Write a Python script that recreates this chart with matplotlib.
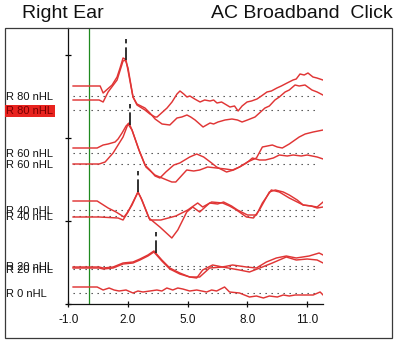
import numpy as np
import matplotlib
matplotlib.use("Agg")
import matplotlib.pyplot as plt
import matplotlib.transforms as mtransforms
from matplotlib.patches import Rectangle

plt.rcParams['font.family'] = ['Liberation Sans', 'DejaVu Sans']

# Stimulus levels and the resting level of each recorded sweep
labels = ["R 80 nHL", "R 80 nHL", "R 60 nHL", "R 60 nHL", "R 40 nHL",
          "R 40 nHL", "R 20 nHL", "R 20 nHL", "R 0 nHL"]
baselines = [20.8, 19.4, 15.1, 14.0, 9.4, 8.8, 3.8, 3.5, 1.1]
selected = 1

# Sweeps: latency (ms) and amplitude relative to the sweep baseline
t1 = [-0.76, 0.6, 0.75, 1.2, 1.45, 1.6, 1.75, 1.85, 2.0, 2.25, 2.45, 2.85, 3.1, 3.36, 3.46,
      3.96, 4.21, 4.46, 4.61, 4.8, 4.96, 5.11, 5.35, 5.62, 5.85, 6.12, 6.3, 6.47, 6.7, 6.87,
      7.12, 7.35, 7.53, 7.73, 7.98, 8.2, 8.48, 8.7, 8.98, 9.2, 9.48, 9.7, 9.99, 10.29, 10.45,
      10.64, 10.85, 11.04, 11.29, 11.49, 11.79]
a1 = [1.0, 1.0, 0.3, 1.1, 1.9, 2.8, 3.8, 3.7, 2.8, -0.1, -0.9, -1.4, -1.8, -2.1, -2.1,
      -1.2, -0.6, 0.2, 0.5, 0.2, -0.1, 0.0, -0.3, -0.6, -0.4, -0.5, -0.4, -0.7, -0.6, -0.8,
      -1.1, -1.0, -1.5, -1.0, -0.6, -0.5, -0.3, 0.0, 0.4, 0.5, 0.8, 1.0, 1.3, 1.6, 1.7,
      2.2, 2.1, 2.3, 1.9, 1.8, 1.6]

t2 = [-0.76, 0.55, 0.75, 1.0, 1.45, 1.75, 1.9, 2.25, 2.45, 2.85, 3.1, 3.36, 3.71, 4.1, 4.46,
      4.7, 4.96, 5.15, 5.37, 5.77, 6.12, 6.3, 6.52, 6.7, 6.87, 7.22, 7.5, 7.73, 8.0, 8.38,
      8.88, 9.1, 9.38, 9.6, 9.89, 10.1, 10.39, 10.6, 10.89, 11.24, 11.5, 11.79]
a2 = [1.0, 1.0, 0.8, 1.8, 3.0, 4.9, 5.0, 1.3, 0.6, 0.2, -0.3, -0.9, -1.4, -1.5, -0.8,
      -0.7, -0.5, -0.7, -1.0, -1.7, -1.3, -1.4, -1.2, -1.1, -1.0, -0.9, -1.0, -1.2, -1.0, -0.7,
      0.2, 0.4, 1.0, 1.3, 1.8, 2.0, 2.5, 2.4, 2.5, 2.0, 1.8, 1.5]

t3 = [-0.76, 0.45, 0.75, 1.0, 1.35, 1.5, 1.7, 1.9, 2.05, 2.2, 2.55, 2.85, 3.1, 3.36, 3.6,
      3.9, 4.3, 4.6, 5.1, 5.45, 5.8, 6.2, 6.45, 6.95, 7.3, 7.6, 8.0, 8.45, 8.75, 9.25,
      9.5, 9.75, 10.1, 10.6, 10.9, 11.3, 11.8]
a3 = [0.5, 0.5, 0.8, 0.9, 1.1, 1.4, 2.0, 2.7, 3.0, 2.3, 0.3, -1.2, -1.7, -2.3, -2.5,
      -1.9, -1.2, -1.0, -0.4, -0.1, -0.4, -1.0, -1.4, -1.9, -1.7, -1.4, -0.9, -0.5, 0.6, 0.8,
      0.6, 0.5, 0.9, 1.6, 1.9, 2.1, 2.3]

t4 = [-0.76, 0.55, 0.85, 1.25, 1.75, 2.0, 2.2, 2.55, 2.9, 3.35, 3.95, 4.2, 4.4, 4.95, 5.3,
      5.6, 6.0, 6.45, 6.9, 7.25, 7.6, 7.95, 8.25, 8.6, 8.9, 9.3, 9.6, 10.0, 10.3, 10.7,
      11.0, 11.5, 11.8]
a4 = [0.0, 0.0, 0.2, 1.1, 2.7, 4.0, 3.4, 1.4, -0.3, -1.1, -1.6, -1.8, -1.8, -0.6, -0.7,
      -0.6, -0.3, -0.4, -0.5, -0.6, -0.3, 0.1, 0.6, 0.4, 0.4, 0.6, 0.9, 0.8, 0.9, 0.8,
      0.9, 0.7, 0.5]

t5 = [-0.76, 0.45, 1.0, 1.4, 1.8, 1.95, 2.2, 2.5, 2.65, 3.05, 3.6, 4.2, 4.5, 4.95, 5.25,
      5.6, 6.1, 6.5, 6.8, 7.2, 7.5, 8.0, 8.45, 8.75, 9.2, 9.6, 10.1, 10.5, 10.8, 11.2,
      11.5, 11.8]
a5 = [0.9, 0.9, 0.2, -0.2, -0.7, -0.3, 0.5, 1.8, 1.2, -0.8, -1.7, -2.8, -2.0, -0.2, 0.3,
      -0.2, 0.7, 0.6, 0.8, 0.4, 0.0, -0.5, -0.5, 0.7, 2.0, 1.8, 1.2, 0.8, 0.5, 0.4,
      0.2, 0.3]

t6 = [-0.76, 0.55, 1.5, 1.75, 2.0, 2.3, 2.5, 2.7, 3.1, 3.65, 4.4, 5.0, 5.5, 5.75, 6.2,
      6.75, 7.1, 7.45, 7.95, 8.3, 8.6, 9.1, 9.4, 9.8, 10.1, 10.5, 10.8, 11.2, 11.5, 11.8]
a6 = [-0.1, -0.1, -0.2, -0.4, 0.4, 1.6, 2.4, 1.6, -0.4, -0.4, 0.0, 0.6, 1.3, 0.9, 1.4,
      1.3, 1.0, 0.6, -0.1, -0.2, 0.6, 2.4, 2.6, 2.4, 2.1, 1.6, 1.1, 1.0, 0.9, 1.4]

t7 = [-0.76, 0.55, 0.75, 1.25, 1.75, 2.25, 2.6, 3.0, 3.3, 3.7, 4.1, 4.6, 5.1, 5.45, 5.75,
      6.25, 6.75, 7.25, 7.95, 8.45, 8.95, 9.45, 9.95, 10.45, 11.1, 11.6, 11.8]
a7 = [-0.1, -0.1, -0.2, -0.1, 0.3, 0.4, 0.7, 1.1, 1.5, 0.6, -0.2, -0.7, -1.1, -1.2, -0.4,
      0.1, -0.1, 0.1, -0.1, -0.2, 0.4, 0.8, 1.0, 0.8, 1.0, 1.3, 1.1]

t8 = [-0.76, 0.55, 0.75, 1.25, 1.75, 2.25, 2.6, 3.0, 3.3, 3.7, 4.1, 4.6, 5.1, 5.6, 6.1,
      6.75, 7.6, 8.1, 8.75, 9.25, 9.95, 10.45, 11.0, 11.5, 11.8]
a8 = [0.1, 0.1, 0.0, 0.1, 0.5, 0.6, 0.9, 1.3, 1.7, 0.8, 0.0, -0.5, -0.8, -0.8, 0.1,
      0.2, -0.1, -0.3, 0.2, 0.6, 1.2, 0.9, 1.0, 0.9, 0.6]

t9 = [-0.76, 0.45, 0.75, 1.05, 1.3, 1.55, 1.9, 2.25, 2.5, 2.75, 3.1, 3.45, 3.7, 3.95, 4.25,
      4.5, 4.75, 5.1, 5.45, 5.7, 5.95, 6.2, 6.45, 6.85, 7.1, 7.6, 8.1, 8.45, 8.8, 9.1,
      9.5, 9.8, 10.1, 10.4, 10.8, 11.3, 11.65, 11.8]
a9 = [0.6, 0.6, 0.3, 0.5, 0.3, 0.2, 0.3, 0.0, 0.2, 0.1, 0.2, 0.3, 0.2, 0.5, 0.3,
      0.5, 0.4, 0.2, 0.3, 0.2, 0.1, 0.3, 0.2, 0.6, 0.1, 0.0, -0.4, -0.3, -0.5, -0.3,
      -0.4, -0.2, -0.3, -0.2, -0.2, -0.2, 0.1, -0.2]

times = [t1, t2, t3, t4, t5, t6, t7, t8, t9]
amps = [a1, a2, a3, a4, a5, a6, a7, a8, a9]

# Wave V latency (ms) marked on each pair of sweeps
wave_v = [1.9, 2.1, 2.5, 3.4]
wave_v_pairs = [(0, 1), (2, 3), (4, 5), (6, 7)]

x_ticks = [-1.0, 2.0, 5.0, 8.0, 11.0]
stim_onset = 0.05

trace_red = '#e03535'

fig = plt.figure(figsize=(4.0, 3.42), dpi=100)
W, H = 400.0, 342.0
ax = fig.add_axes([68.3 / W, 1 - 304 / H, 255 / W, 276 / H])
ax.set_xlim(-1.0, 11.81)
ax.set_ylim(0, 27.6)

# outer frame
fig.patches.append(Rectangle((5 / W, 1 - 338 / H), 387 / W, 310 / H,
                             transform=fig.transFigure, fill=False,
                             edgecolor='#3a3a3a', linewidth=0.9))

for s in ['top', 'right']:
    ax.spines[s].set_visible(False)
for s in ['left', 'bottom']:
    ax.spines[s].set_color('#111111')
    ax.spines[s].set_linewidth(0.9)

ax.set_xticks(x_ticks)
ax.set_xticklabels([f"{v:.1f}" for v in x_ticks])
ax.set_yticks([0, 8.3, 16.6, 24.9])
ax.set_yticklabels([])
ax.tick_params(axis='x', direction='inout', length=5, width=0.9, pad=5,
               labelsize=8.5, colors='#111111')
ax.tick_params(axis='y', direction='inout', length=4, width=0.9)

# stimulus onset
ax.axvline(stim_onset, color='#1f8a1f', linewidth=0.9, zorder=1)

label_tf = mtransforms.blended_transform_factory(fig.transFigure, ax.transData)
for i, (t, a, b) in enumerate(zip(times, amps, baselines)):
    ax.plot([-0.76, 11.6], [b, b], color='#404040', linewidth=0.8,
            linestyle=(0, (1.2, 4.2)), zorder=2)
    ax.plot(t, np.asarray(a) + b, color=trace_red, linewidth=1.05,
            solid_joinstyle='round', zorder=3)
    if i == selected:
        fig.text(6.5 / W, b - 0.1, labels[i], transform=label_tf, fontsize=8,
                 va='center', ha='left', color='#7a0000',
                 bbox=dict(boxstyle='square,pad=0.12', facecolor='#e8231f',
                           edgecolor='none'))
    else:
        fig.text(6.5 / W, b - 0.1, labels[i], transform=label_tf, fontsize=8,
                 va='center', ha='left', color='#111111')

# wave V markers sitting on top of the higher peak of each pair
for lat, (p, q) in zip(wave_v, wave_v_pairs):
    top = max(np.interp(lat, times[p], np.asarray(amps[p]) + baselines[p]),
              np.interp(lat, times[q], np.asarray(amps[q]) + baselines[q]))
    ax.plot([lat, lat], [top, top + 2.1], color='#222222', linewidth=1.3,
            dashes=(7, 2.2), zorder=4)

fig.text(22 / W, 1 - 17.5 / H, "Right Ear", fontsize=14, va='baseline', ha='left',
         color='#111111')
fig.text(393 / W, 1 - 17.5 / H, "AC Broadband  Click", fontsize=14, va='baseline',
         ha='right', color='#111111')

fig.savefig("out.png", dpi=100)
